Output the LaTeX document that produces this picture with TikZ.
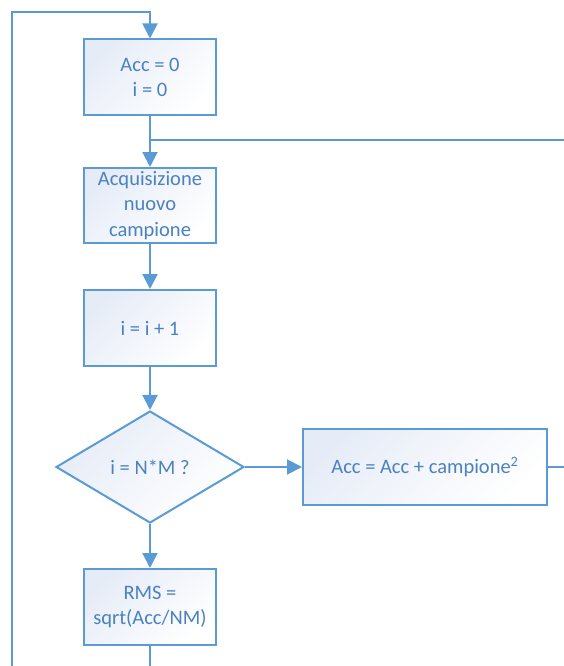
\documentclass[tikz,border=0pt]{standalone}
\usepackage{fontspec}
\setmainfont{Carlito}
\usetikzlibrary{shapes.geometric,arrows.meta}
\pgfdeclarelayer{bg}
\pgfsetlayers{bg,main}
\definecolor{lineblue}{HTML}{5B9BD5}
\definecolor{textblue}{HTML}{4A82C0}
\definecolor{fillblue}{HTML}{E6ECF7}
\tikzset{
    every node/.style={draw=lineblue, line width=0.06cm, text=textblue, align=center,
        inner sep=0mm, top color=fillblue, bottom color=white, shading angle=45,
        font=\fontsize{17.5}{21.8}\selectfont}
}
\tikzset{box/.style={rectangle, minimum width=3.96cm, minimum height=2.28cm}}
\tikzset{test/.style={diamond, minimum width=5.64cm, minimum height=3.36cm}}
\tikzset{flow/.style={draw=lineblue, line width=0.06cm, -{Triangle[length=0.45cm,width=0.45cm]}}}
\tikzset{wire/.style={draw=lineblue, line width=0.06cm}}

\begin{document}
\begin{tikzpicture}
        \useasboundingbox (0cm, 0cm) rectangle (16.92cm, -19.98cm);
        \node (v0) [box] at (4.500000cm, -2.325000cm) {Acc = 0\\i = 0};
        \node (v1) [box, minimum height=2.25cm] at (4.500000cm, -6.165000cm) {Acquisizione\\nuovo\\campione};
        \node (v2) [box] at (4.500000cm, -9.840000cm) {i = i + 1};
        \node (v3) [test] at (4.500000cm, -14.010000cm) {i = N*M ?};
        \node (v4) [box, minimum width=7.32cm] at (12.750000cm, -14.010000cm) {Acc = Acc + campione\textsuperscript{2}};
        \node (v5) [box] at (4.500000cm, -18.210000cm) {RMS =\\sqrt(Acc/NM)};
        \coordinate (c0) at (0.360000cm, -19.980000cm);
        \coordinate (c1) at (0.360000cm, -0.360000cm);
        \coordinate (c2) at (4.500000cm, -0.360000cm);
        \coordinate (c3) at (16.920000cm, -4.200000cm);
        \coordinate (c4) at (4.500000cm, -4.200000cm);
        \coordinate (c5) at (16.920000cm, -14.010000cm);
        \coordinate (c6) at (4.500000cm, -19.980000cm);
        \begin{pgfonlayer}{bg}
                \draw [flow] (c0) -- (c1) -- (c2) -- (v0);
                \draw (v0) edge [flow] (v1);
                \draw (c3) edge [wire] (c4);
                \draw (v1) edge [flow] (v2);
                \draw (v2) edge [flow] (v3);
                \draw (v3) edge [flow] (v4);
                \draw (v4) edge [wire] (c5);
                \draw (v3) edge [flow] (v5);
                \draw (v5) edge [wire] (c6);
        \end{pgfonlayer}
\end{tikzpicture}
\end{document}
